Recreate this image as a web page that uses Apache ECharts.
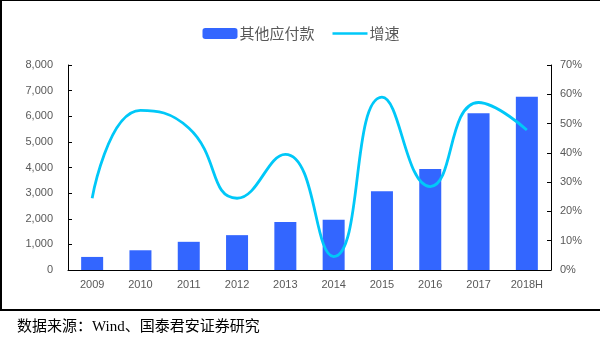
<!DOCTYPE html>
<html>
<head>
<meta charset="utf-8">
<script src="https://cdn.jsdelivr.net/npm/echarts@6/dist/echarts.min.js"></script>
<style>
html,body{margin:0;padding:0;background:#fff;}
#wrap{position:relative;width:602px;height:340px;overflow:hidden;}
#frame{position:absolute;left:0;top:0;width:600px;height:311px;border-top:1px solid #000;border-left:2px solid #000;border-bottom:2px solid #000;box-sizing:border-box;}
#chart{position:absolute;left:0;top:0;width:602px;height:340px;}
</style>
</head>
<body>
<div id="wrap"><div id="frame"></div><div id="chart"></div></div>
<script>
var categories = ['2009','2010','2011','2012','2013','2014','2015','2016','2017','2018H'];
var payables = [510, 770, 1100, 1360, 1870, 1960, 3070, 3940, 6120, 6760];
var growth = [24.5, 54.5, 48.5, 24.5, 39.5, 4.6, 59.0, 28.5, 57.2, 47.8];
var leftTicks = [0, 8000, 1000];
var rightTicks = [0, 70, 10];

var chart = echarts.init(document.getElementById('chart'), null, {renderer:'canvas'});
var labelColor = '#595959';
var lineColor = '#00C8F8';
chart.setOption({
  animation: false,
  textStyle: {fontFamily: 'Arial, "Liberation Sans", "Noto Sans CJK SC", sans-serif'},
  title: {
    text: '数据来源：Wind、国泰君安证券研究',
    left: 12, top: 315,
    textStyle: {fontSize: 15, fontWeight: 'normal', color: '#000', fontFamily: '"Liberation Serif", "Noto Sans CJK SC", serif'}
  },
  legend: {
    top: 21, left: 'center',
    itemWidth: 35, itemHeight: 11, itemGap: 18,
    symbolKeepAspect: true,
    textStyle: {fontSize: 15, color: labelColor, fontFamily: '"Noto Sans CJK SC", sans-serif', padding: [0,0,0,-3]},
    data: ['其他应付款', {name: '增速', icon: 'path://M0,0H35V2.6H0Z'}]
  },
  grid: {left: 68, right: 51, top: 65, bottom: 70},
  xAxis: {
    type: 'category', data: categories,
    axisLine: {lineStyle: {color: '#000', width: 1}},
    axisTick: {inside: true, length: 4, lineStyle: {color: '#000'}},
    axisLabel: {color: labelColor, fontSize: 11, margin: 9}
  },
  yAxis: [{
    type: 'value', min: leftTicks[0], max: leftTicks[1], interval: leftTicks[2],
    splitLine: {show: false},
    axisLine: {show: true, lineStyle: {color: '#000'}},
    axisTick: {show: true, inside: true, length: 4, lineStyle: {color: '#000'}},
    axisLabel: {color: labelColor, fontSize: 11, margin: 15,
      formatter: function(v){ return v.toLocaleString('en-US'); }}
  }, {
    type: 'value', min: rightTicks[0], max: rightTicks[1], interval: rightTicks[2],
    splitLine: {show: false},
    axisLine: {show: true, lineStyle: {color: '#000'}},
    axisTick: {show: true, inside: true, length: 4, lineStyle: {color: '#000'}},
    axisLabel: {color: labelColor, fontSize: 11, margin: 9, formatter: '{value}%'}
  }],
  series: [{
    name: '其他应付款', type: 'bar', data: payables, barWidth: 22,
    itemStyle: {color: '#3366FF'}
  }, {
    name: '增速', type: 'line', yAxisIndex: 1, data: growth,
    smooth: 0.5, symbol: 'none',
    lineStyle: {color: lineColor, width: 2.8},
    itemStyle: {color: lineColor}
  }]
});
</script>
</body>
</html>
